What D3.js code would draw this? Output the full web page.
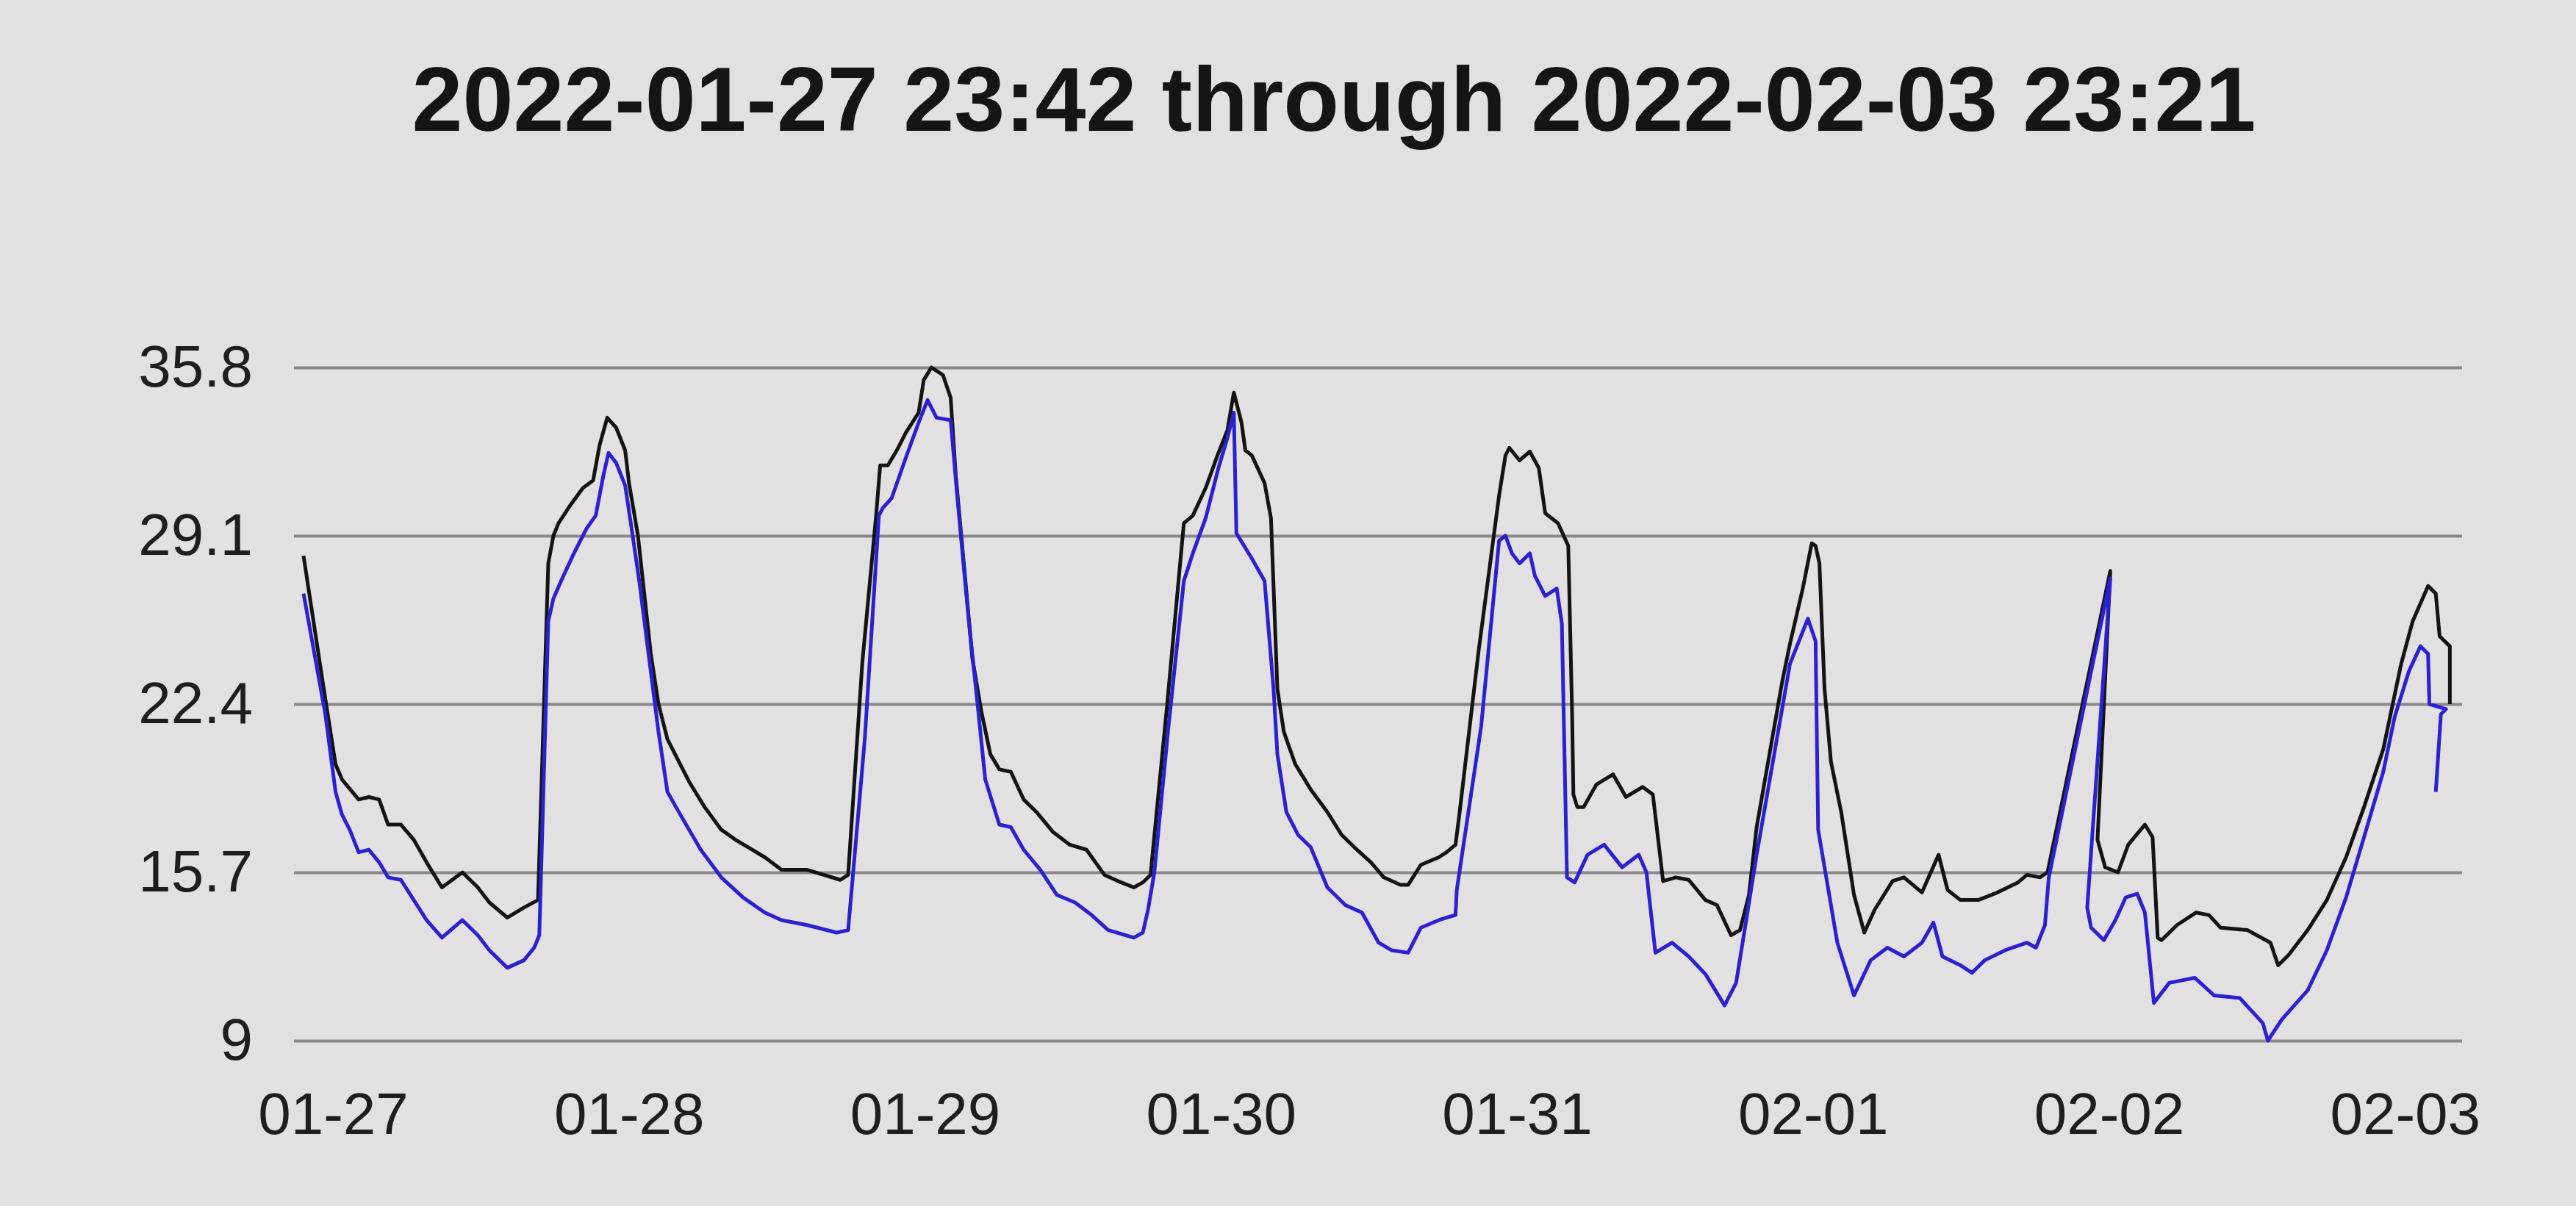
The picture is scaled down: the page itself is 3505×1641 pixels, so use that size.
<!DOCTYPE html>
<html lang="en">

<head>
    <meta charset="UTF-8" />
    <meta name="viewport" content="width=device-width, initial-scale=1.0" />
    <script src="https://d3js.org/d3.v7.min.js"></script>
    <title>Temperature</title>
    <style>
        html, body { margin: 0; padding: 0; background: #e3e0e2; }
        svg { display: block; }
    </style>
</head>

<body>
    <script>
        const width = 3505,
            height = 1641

        // title and time span
        const titleText = '2022-01-27 23:42 through 2022-02-03 23:21'
        const startTime = new Date(2022, 0, 27, 23, 42)
        const endTime = new Date(2022, 1, 3, 23, 21)

        // y ticks
        const yTicks = [9, 15.7, 22.4, 29.1, 35.8]
        // x tick labels, and where they sit (hours after start)
        const xTickLabels = ['01-27', '01-28', '01-29', '01-30', '01-31', '02-01', '02-02', '02-03']
        const xTickHours = [0, 23.1, 46.2, 69.3, 92.4, 115.5, 138.6, 161.7]

        // black series: hours after start, value
        const blackHours = [0, 1.7, 2.5, 3.0, 4.3, 5.1, 5.9, 6.6, 7.6, 8.6, 9.6, 10.8, 12.4, 13.6, 14.5, 15.9, 17.2, 18.3,
            19.1, 19.5, 19.9, 20.8, 21.8, 22.6, 23.1, 23.7, 24.4, 25.1, 25.4, 26.1, 27.1, 27.7, 28.4, 29.4, 30.1, 31.3,
            32.6, 33.7, 34.7, 36.0, 37.3, 39.3, 41.9, 42.5, 43.6, 44.7, 45.0, 45.6, 46.3, 47.0, 48.0, 48.4, 49.0, 49.9,
            50.5, 50.9, 51.6, 52.2, 52.9, 53.6, 54.3, 55.2, 56.2, 57.2, 58.5, 59.8, 61.1, 62.5, 63.8, 64.8, 65.5, 66.1,
            67.4, 68.7, 69.4, 70.4, 71.4, 72.1, 72.6, 73.2, 73.5, 74.0, 75.0, 75.5, 76.0, 76.5, 77.4, 78.6, 79.9, 81.0,
            82.0, 83.3, 84.3, 85.6, 86.2, 87.2, 88.6, 89.2, 89.9, 90.2, 91.7, 93.3, 93.8, 94.1, 94.9, 95.7, 96.4, 96.9,
            97.9, 98.7, 99.0, 99.1, 99.4, 99.9, 100.9, 102.2, 103.2, 104.5, 105.3, 106.1, 107.1, 108.1, 109.4, 110.3,
            111.4, 112.1, 112.8, 113.4, 115.4, 116.0, 117.0, 117.7, 118.0, 118.3, 118.7, 119.2, 120.0, 121.0, 121.8,
            122.6, 124.0, 124.9, 126.3, 127.6, 128.3, 129.3, 130.7, 132.2, 133.8, 134.5, 135.5, 136.1, 141.0, 140.0,
            140.6, 141.6, 142.4, 143.7, 144.3, 144.7, 145.0, 146.2, 147.7, 148.7, 149.6, 151.7, 153.5, 154.1, 154.9,
            156.4, 157.9, 159.4, 160.8, 162.3, 163.7, 164.6, 165.8, 166.4, 166.7, 167.5, 167.5]
        const blackTemps = [28.3, 22.6, 20.0, 19.4, 18.6, 18.7, 18.6, 17.6, 17.6, 17.0, 16.1, 15.1, 15.7, 15.1, 14.5, 13.9, 14.3, 14.6,
            28.0, 29.1, 29.6, 30.3, 31.0, 31.3, 32.7, 33.8, 33.4, 32.5, 31.2, 29.1, 24.4, 22.4, 21.0, 20.0, 19.3, 18.3,
            17.4, 17.0, 16.7, 16.3, 15.8, 15.8, 15.4, 15.6, 24.0, 30.0, 31.9, 31.9, 32.5, 33.2, 34.0, 35.3, 35.8, 35.5,
            34.6, 31.5, 27.6, 24.2, 22.1, 20.4, 19.8, 19.7, 18.6, 18.1, 17.3, 16.8, 16.6, 15.6, 15.3, 15.1, 15.3, 15.6,
            22.4, 29.6, 29.9, 31.0, 32.4, 33.3, 34.8, 33.6, 32.5, 32.3, 31.2, 29.8, 23.0, 21.3, 20.0, 19.0, 18.1, 17.2,
            16.7, 16.1, 15.5, 15.2, 15.2, 16.0, 16.3, 16.5, 16.8, 18.0, 24.5, 30.7, 32.3, 32.6, 32.1, 32.45, 31.8, 30.0,
            29.6, 28.7, 22.0, 18.8, 18.3, 18.3, 19.2, 19.6, 18.7, 19.1, 18.8, 15.35, 15.5, 15.4, 14.6, 14.4,
            13.2, 13.4, 14.8, 17.5, 23.3, 24.8, 27.0, 28.8, 28.7, 28.0, 23.0, 20.1, 18.1, 14.8, 13.3,
            14.2, 15.35, 15.5, 14.9, 16.4, 15.0, 14.6, 14.6, 14.9, 15.3, 15.6, 15.5, 15.7, 27.7, 17.0,
            15.9, 15.7, 16.8, 17.6, 17.1, 13.1, 13.0, 13.6, 14.1, 14.0, 13.5, 13.4, 12.9, 12.0, 12.4,
            13.4, 14.6, 16.3, 18.3, 20.6, 24.0, 25.7, 27.1, 26.8, 25.1, 24.7, 22.4]

        // blue series: hours after start, value
        const blueHours = [0, 1.7, 2.5, 3.0, 3.6, 4.3, 5.1, 5.9, 6.6, 7.6, 8.6, 9.6, 10.8, 12.4, 13.6, 14.5, 15.9, 17.2, 18.0, 18.4,
            19.1, 19.5, 20.1, 21.1, 22.1, 22.8, 23.4, 23.8, 24.4, 25.1, 25.6, 26.2, 27.1, 27.7, 28.4, 29.4, 31.0, 32.6,
            34.3, 36.0, 37.3, 39.3, 41.6, 42.5, 43.8, 44.9, 45.2, 45.9, 47.0, 48.0, 48.7, 49.4, 50.5, 51.1, 51.9, 52.6,
            53.2, 54.3, 55.2, 56.2, 57.5, 58.8, 60.2, 61.5, 62.8, 64.8, 65.5, 65.9, 66.4, 67.5, 68.7, 69.4, 70.4, 71.4,
            72.1, 72.6, 72.8, 74.0, 75.0, 75.7, 76.0, 76.7, 77.6, 78.6, 79.9, 81.3, 82.6, 83.9, 84.9, 86.2, 87.2, 88.6,
            89.2, 89.9, 90.0, 91.9, 93.3, 93.8, 94.3, 94.9, 95.7, 96.1, 96.9, 97.8, 98.2, 98.6, 99.2, 100.2, 101.5,
            102.9, 104.2, 104.8, 105.5, 106.8, 108.1, 109.4, 110.9, 111.8, 112.4, 113.4, 116.0, 117.4, 118.0, 118.2,
            119.7, 121.0, 122.3, 123.6, 124.9, 126.3, 127.2, 127.9, 129.3, 130.2, 131.2, 132.8, 134.5, 135.2, 135.9,
            136.2, 141.0, 139.2, 139.5, 140.5, 141.4, 142.2, 143.1, 143.7, 144.4, 145.6, 147.6, 149.1, 151.1, 152.9,
            153.3, 154.4, 156.4, 157.9, 159.4, 160.8, 162.3, 163.2, 164.3, 165.2, 165.8, 165.9, 167.2, 166.8, 166.4]
        const blueTemps = [26.8, 22.0, 18.9, 18.0, 17.4, 16.5, 16.6, 16.1, 15.5, 15.4, 14.6, 13.8, 13.1, 13.8, 13.2, 12.6, 11.9, 12.2, 12.7, 13.2,
            25.7, 26.6, 27.3, 28.4, 29.4, 29.9, 31.5, 32.4, 32.0, 31.1, 29.4, 27.3, 23.7, 21.3, 18.9, 18.0, 16.6, 15.5,
            14.7, 14.1, 13.8, 13.6, 13.3, 13.4, 21.0, 29.9, 30.2, 30.6, 32.2, 33.6, 34.5, 33.8, 33.7, 30.2, 25.8, 22.4,
            19.4, 17.6, 17.5, 16.6, 15.8, 14.8, 14.5, 14.0, 13.4, 13.1, 13.3, 14.2, 15.7, 21.5, 27.3, 28.4, 29.8, 31.8,
            33.0, 34.0, 29.2, 28.2, 27.3, 23.0, 20.4, 18.1, 17.2, 16.7, 15.1, 14.4, 14.1, 12.9, 12.6, 12.5, 13.5, 13.8,
            13.9, 14.0, 15.0, 21.5, 28.9, 29.1, 28.4, 28.0, 28.4, 27.5, 26.7, 27.0, 25.6, 15.5, 15.3, 16.4, 16.8,
            15.9, 16.4, 15.7, 12.5, 12.9, 12.35, 11.65, 10.4, 11.3, 13.2, 16.4, 24.0, 25.8, 24.9, 17.4,
            12.9, 10.8, 12.2, 12.7, 12.35, 12.9, 13.7, 12.35, 12.0, 11.7, 12.2, 12.6, 12.9, 12.7, 13.6,
            15.5, 27.4, 14.3, 13.5, 13.0, 13.8, 14.7, 14.85, 14.1, 10.5, 11.3, 11.5, 10.8, 10.7, 9.7,
            9.0, 9.85, 11.0, 12.6, 14.7, 17.1, 19.7, 21.9, 23.7, 24.7, 24.4, 22.4, 22.2, 22.0, 18.9]

        const hourMs = 3600 * 1000
        const toDate = h => new Date(startTime.getTime() + h * hourMs)

        //1.svg
        const svg = d3.select('body').append('svg').attr('width', width).attr('height', height)

        //2.scales
        const plotLeft = 400,
            plotRight = 3350
        const x = d3.scaleTime().domain([startTime, endTime]).range([413, 3336])
        const y = d3.scaleLinear().domain([9, 35.8]).range([1416, 500])

        //3.title
        svg.append('text')
            .attr('x', 1815)
            .attr('y', 178)
            .attr('text-anchor', 'middle')
            .style('font-family', '"Liberation Sans", Arial, sans-serif')
            .style('font-weight', 'bold')
            .style('font-size', '124px')
            .style('fill', '#151515')
            .text(titleText)

        //4.y axis with gridlines
        const yAxis = d3.axisLeft(y)
            .tickValues(yTicks)
            .tickSize(-(plotRight - plotLeft))
            .tickPadding(56)
            .tickFormat(d => String(d))

        const gy = svg.append('g')
            .attr('transform', `translate(${plotLeft},0)`)
            .call(yAxis)
        gy.select('.domain').remove()
        gy.selectAll('.tick line').attr('stroke', '#8a888a').attr('stroke-width', 4)
        gy.selectAll('.tick text')
            .style('font-family', '"Liberation Sans", Arial, sans-serif')
            .style('font-size', '80px')
            .style('fill', '#1e1e1e')

        //5.x axis labels
        const dayTicks = xTickHours.map(toDate)
        const xAxis = d3.axisBottom(x)
            .tickValues(dayTicks)
            .tickSize(0)
            .tickPadding(70)
            .tickFormat((d, i) => xTickLabels[i])

        const gx = svg.append('g')
            .attr('transform', `translate(0,${y(9)})`)
            .call(xAxis)
        gx.select('.domain').remove()
        gx.selectAll('.tick text')
            .attr('dx', 40)
            .style('font-family', '"Liberation Sans", Arial, sans-serif')
            .style('font-size', '80px')
            .style('fill', '#1e1e1e')

        //6.lines
        const line = d3.line()
            .x(d => x(toDate(d[0])))
            .y(d => y(d[1]))

        const blackData = d3.zip(blackHours, blackTemps)
        const blueData = d3.zip(blueHours, blueTemps)

        svg.append('path')
            .datum(blackData)
            .attr('d', line)
            .attr('fill', 'none')
            .attr('stroke', '#141414')
            .attr('stroke-width', 5)
            .attr('stroke-linejoin', 'round')

        svg.append('path')
            .datum(blueData)
            .attr('d', line)
            .attr('fill', 'none')
            .attr('stroke', '#2a22d0')
            .attr('stroke-width', 5)
            .attr('stroke-linejoin', 'round')
    </script>
</body>

</html>
